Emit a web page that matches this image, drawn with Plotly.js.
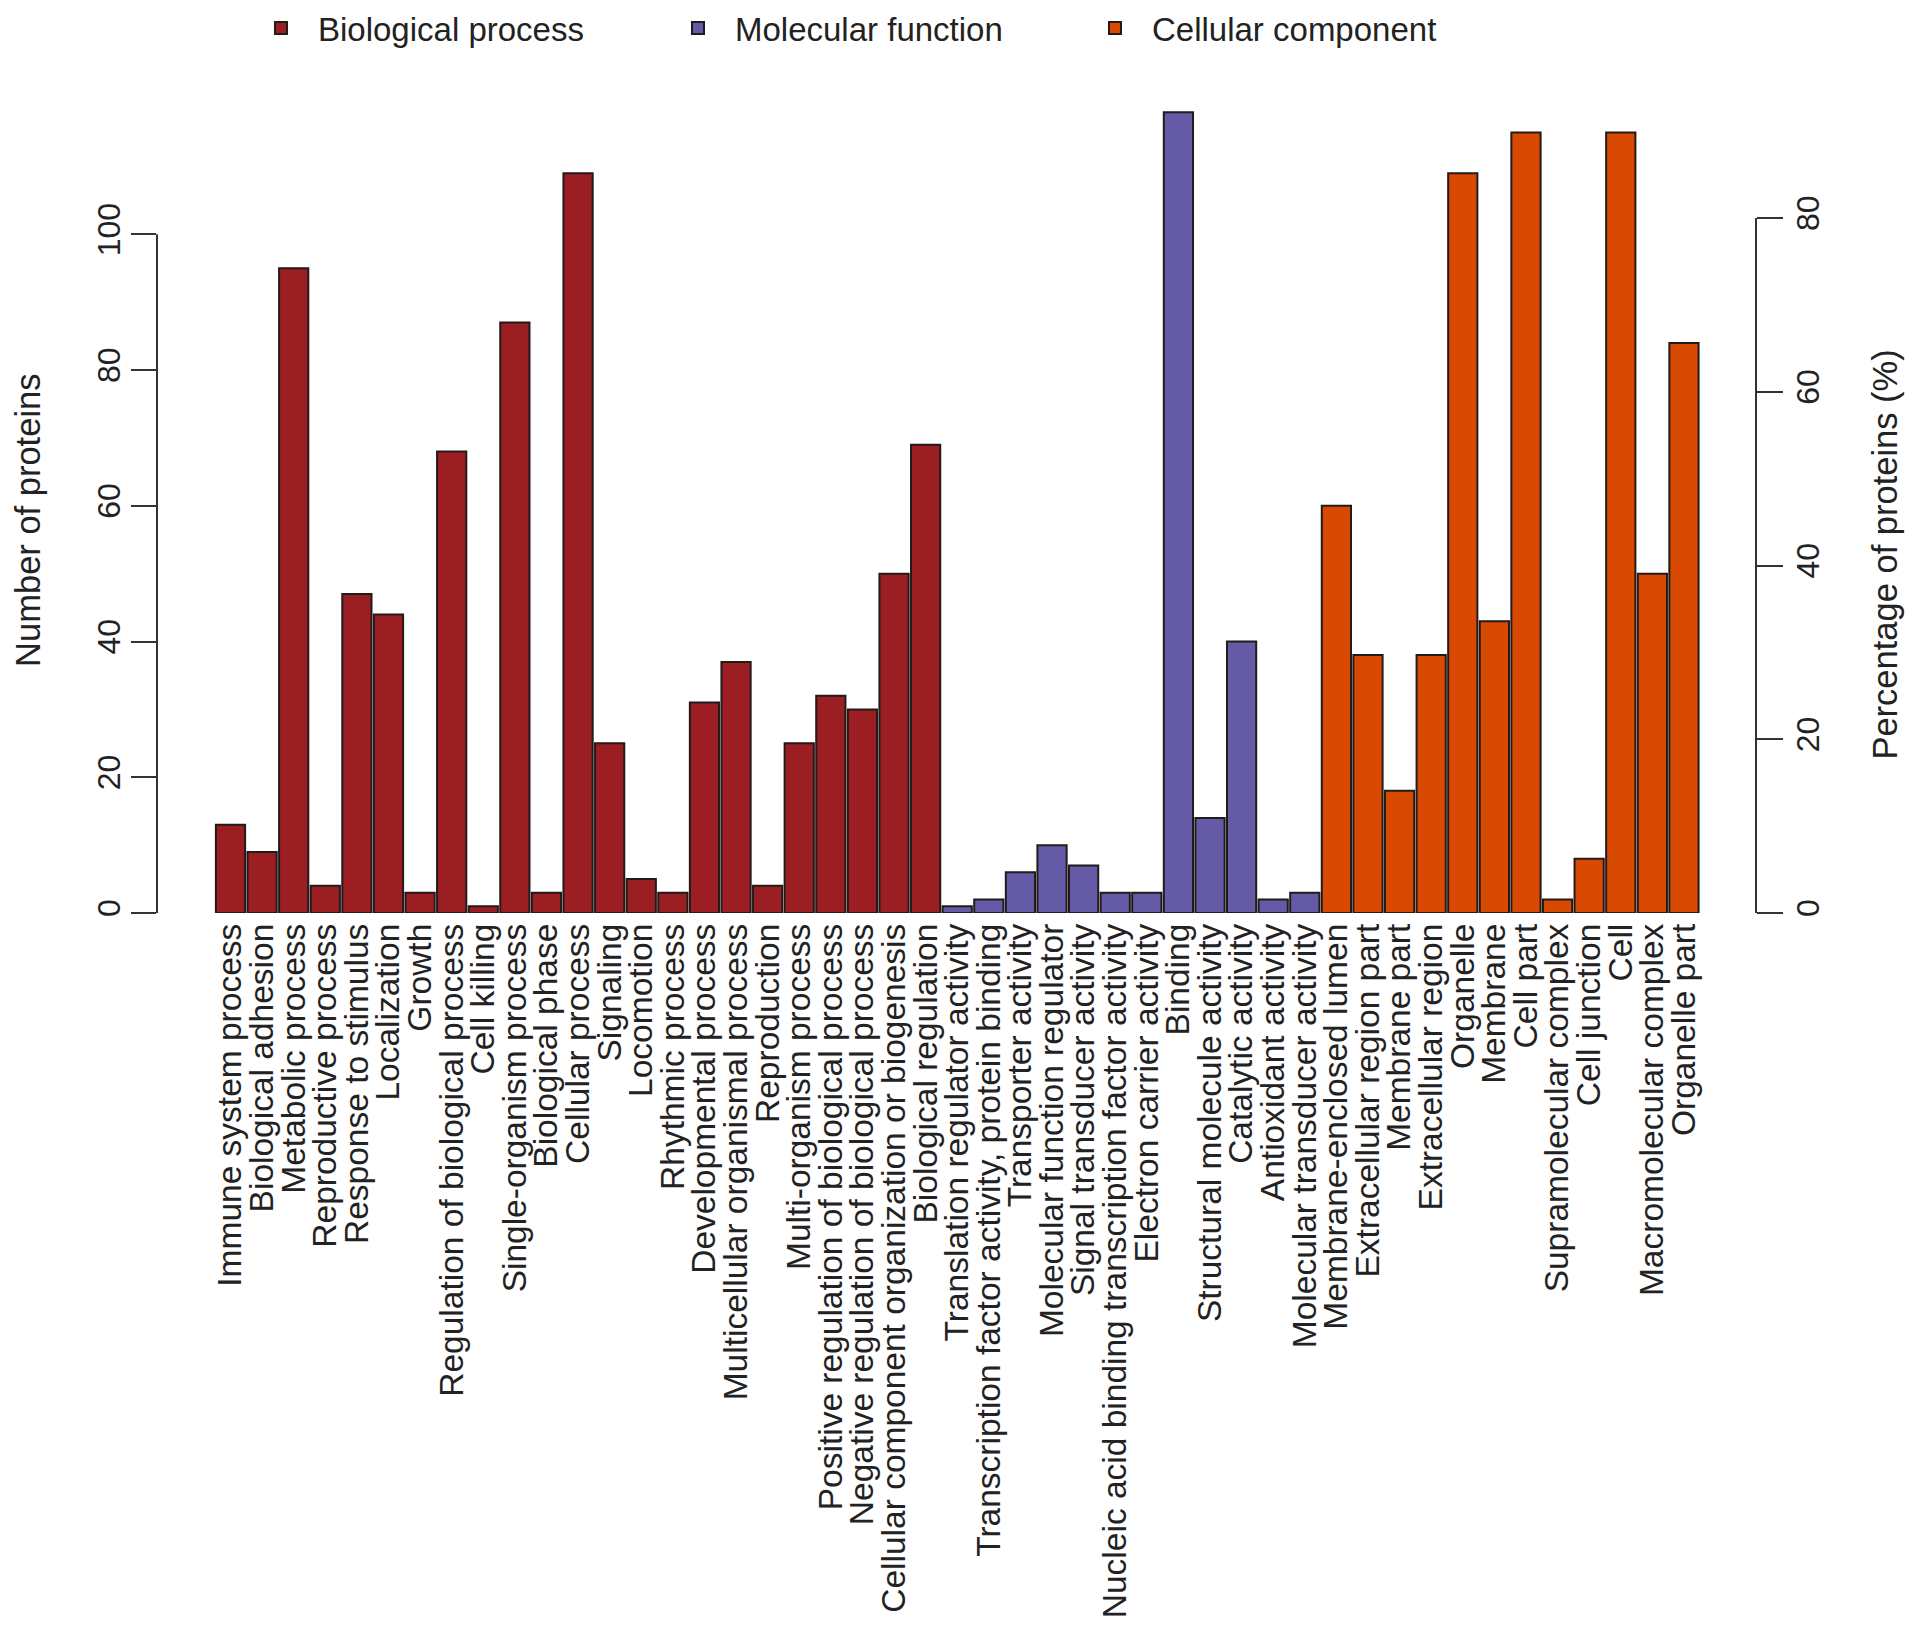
<!DOCTYPE html>
<html>
<head>
<meta charset="utf-8">
<script src="https://cdn.plot.ly/plotly-3.0.1.min.js"></script>
<style>
  html, body { margin: 0; padding: 0; background: #fff; }
  #chart { width: 1913px; height: 1631px; }
</style>
</head>
<body>
<div id="chart"></div>
<script>
// GO categories
const bpTerms = [
  'Immune system process', 'Biological adhesion', 'Metabolic process', 'Reproductive process',
  'Response to stimulus', 'Localization', 'Growth', 'Regulation of biological process',
  'Cell killing', 'Single-organism process', 'Biological phase', 'Cellular process',
  'Signaling', 'Locomotion', 'Rhythmic process', 'Developmental process',
  'Multicellular organismal process', 'Reproduction', 'Multi-organism process',
  'Positive regulation of biological process', 'Negative regulation of biological process',
  'Cellular component organization or biogenesis', 'Biological regulation'
];
const bpCounts = [13, 9, 95, 4, 47, 44, 3, 68, 1, 87, 3, 109, 25, 5, 3, 31, 37, 4, 25, 32, 30, 50, 69];

const mfTerms = [
  'Translation regulator activity', 'Transcription factor activity, protein binding',
  'Transporter activity', 'Molecular function regulator', 'Signal transducer activity',
  'Nucleic acid binding transcription factor activity', 'Electron carrier activity', 'Binding',
  'Structural molecule activity', 'Catalytic activity', 'Antioxidant activity',
  'Molecular transducer activity'
];
const mfCounts = [1, 2, 6, 10, 7, 3, 3, 118, 14, 40, 2, 3];

const ccTerms = [
  'Membrane-enclosed lumen', 'Extracellular region part', 'Membrane part', 'Extracellular region',
  'Organelle', 'Membrane', 'Cell part', 'Supramolecular complex', 'Cell junction', 'Cell',
  'Macromolecular complex', 'Organelle part'
];
const ccCounts = [60, 38, 18, 38, 109, 43, 115, 2, 8, 115, 50, 84];

// total number of proteins (ratio between the two y axes)
const totalProteins = 128;
const countTicks = [0, 20, 40, 60, 80, 100];
const percentTicks = [0, 20, 40, 60, 80];

const FONT = 'Liberation Sans, Arial, Helvetica, sans-serif';
const TXT = '#222';
// top of the count axis sits at the top edge of the page
const countMax = 133.2;

const edge = { color: '#231a1a', width: 2 };
const mkBar = (name, x, y, color) => ({
  type: 'bar',
  name: name,
  x: x,
  y: y,
  marker: { color: color, line: edge },
  hoverinfo: 'x+y',
});

const traces = [
  mkBar('Biological process', bpTerms, bpCounts, '#9a1e22'),
  mkBar('Molecular function', mfTerms, mfCounts, '#645aa6'),
  mkBar('Cellular component', ccTerms, ccCounts, '#d84a02'),
];

const yTitle = (text, x, y) => ({
  text: text,
  xref: 'paper', yref: 'paper',
  x: x, y: y,
  xanchor: 'center', yanchor: 'middle',
  textangle: -90,
  showarrow: false,
  font: { family: FONT, size: 34.5, color: TXT },
});

const layout = {
  width: 1913,
  height: 1631,
  paper_bgcolor: '#fff',
  plot_bgcolor: '#fff',
  font: { family: FONT, size: 33, color: TXT },
  margin: { l: 157, r: 157, t: 0, b: 718 },
  barmode: 'overlay',
  bargap: 0.075,
  showlegend: true,
  legend: {
    orientation: 'h',
    x: 0.0544,
    xanchor: 'left',
    y: 0.979,
    yanchor: 'middle',
    itemwidth: 64,
    entrywidth: 338,
    entrywidthmode: 'pixels',
    bgcolor: 'rgba(0,0,0,0)',
    font: { family: FONT, size: 33, color: TXT },
    traceorder: 'normal',
  },
  xaxis: {
    type: 'category',
    categoryorder: 'array',
    categoryarray: bpTerms.concat(mfTerms, ccTerms),
    range: [-2.326, 48.28],
    tickmode: 'linear',
    tick0: 0,
    dtick: 1,
    tickangle: -90,
    ticks: '',
    ticklabelstandoff: 3,
    showline: false,
    showgrid: false,
    zeroline: false,
    tickfont: { family: FONT, size: 33.5, color: TXT },
  },
  yaxis: {
    range: [0, countMax],
    tickvals: countTicks,
    ticks: 'outside',
    ticklen: 25,
    tickwidth: 2,
    tickcolor: '#333',
    tickangle: -90,
    ticklabelstandoff: -2,
    showline: false,
    showgrid: false,
    zeroline: false,
    tickfont: { family: FONT, size: 32, color: TXT },
  },
  yaxis2: {
    overlaying: 'y',
    anchor: 'x',
    side: 'right',
    range: [0, countMax * 100 / totalProteins],
    tickvals: percentTicks,
    ticks: 'outside',
    ticklen: 26,
    tickwidth: 2,
    tickcolor: '#333',
    tickangle: -90,
    ticklabelstandoff: -2,
    showline: false,
    showgrid: false,
    zeroline: false,
    tickfont: { family: FONT, size: 32, color: TXT },
  },
  annotations: [
    yTitle('Number of proteins', -0.0807, 0.4348),
    yTitle('Percentage of proteins (%)', 1.0807, 0.3965),
  ],
  // axis lines only span the tick range, as in the original R plot
  shapes: [
    {
      type: 'line', xref: 'paper', yref: 'y',
      x0: 0, x1: 0, y0: countTicks[0], y1: countTicks[countTicks.length - 1],
      line: { color: '#333', width: 2 },
    },
    {
      type: 'line', xref: 'paper', yref: 'y2',
      x0: 1, x1: 1, y0: percentTicks[0], y1: percentTicks[percentTicks.length - 1],
      line: { color: '#333', width: 2 },
    },
  ],
};

Plotly.newPlot('chart', traces, layout, { displayModeBar: false, staticPlot: true });
</script>
</body>
</html>
